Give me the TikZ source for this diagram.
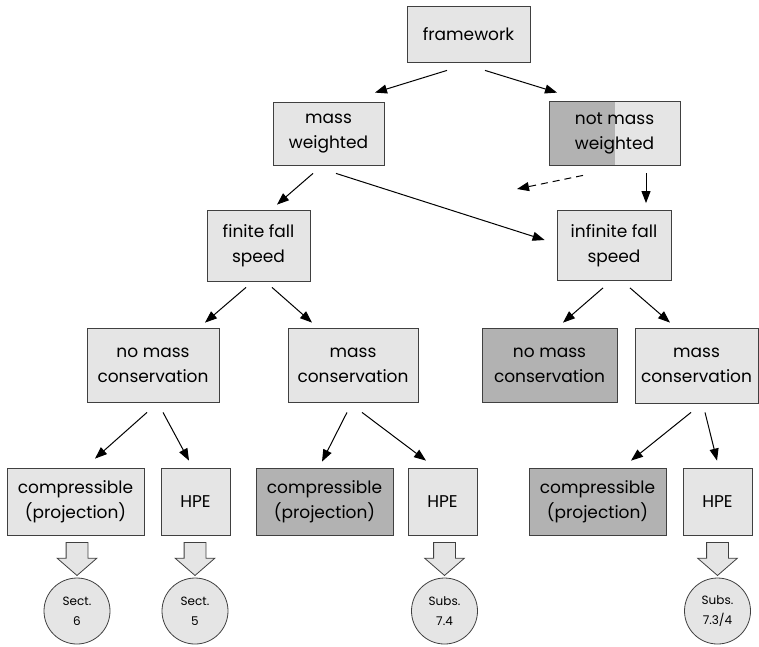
\documentclass[tikz,border=0pt]{standalone}
\usepackage{fontspec}
\setmainfont{Poppins}
\usepackage{tikz}
\usetikzlibrary{arrows.meta,positioning,calc,shapes.arrows}

\definecolor{boxlight}{gray}{0.90}
\definecolor{boxdark}{gray}{0.70}
\definecolor{boxline}{gray}{0.25}

\begin{document}
\begin{tikzpicture}[
  x=1pt,y=-1pt,
  block/.style={rectangle,draw=boxline,fill=boxlight,line width=0.8pt,align=center,
                inner sep=0pt,font=\fontsize{17}{25}\selectfont},
  darkblock/.style={block,fill=boxdark},
  halfblock/.style={block,path picture={\fill[boxdark] (path picture bounding box.south west)
                rectangle (path picture bounding box.north);}},
  sect/.style={circle,draw=boxline,fill=boxlight,line width=0.8pt,minimum size=66pt,
                inner sep=0pt,align=center,font=\fontsize{12}{20}\selectfont},
  fat/.style={single arrow,draw=boxline,fill=boxlight,line width=0.8pt,rotate=-90,
                minimum height=33pt,inner xsep=0pt,inner ysep=10.5pt,anchor=tip,
                single arrow head extend=9pt,single arrow tip angle=98},
  arr/.style={-{Triangle[length=12pt,width=9pt]},line width=1pt}
]
  \useasboundingbox (0,0) rectangle (759,646);
  % levels 1 and 2
  \node[block,minimum width=123pt,minimum height=56pt] (fw) at (468.5,34) {framework};
  \node[block,minimum width=111pt,minimum height=63pt] (mw) at (328.5,133.5) {mass\\weighted};
  \node[halfblock,minimum width=131pt,minimum height=64pt] (nmw) at (614.5,133) {not mass\\weighted};
  % fall speed
  \node[block,minimum width=103pt,minimum height=71pt] (ffs) at (258.5,245.5) {finite fall\\speed};
  \node[block,minimum width=114pt,minimum height=70pt] (ifs) at (614,245.5) {infinite fall\\speed};
  % mass conservation
  \node[block,minimum width=132pt,minimum height=74pt] (nmc1) at (153,365) {no mass\\conservation};
  \node[block,minimum width=130pt,minimum height=74pt] (mc1) at (353,365) {mass\\conservation};
  \node[darkblock,minimum width=135pt,minimum height=74pt] (nmc2) at (549.5,365) {no mass\\conservation};
  \node[block,minimum width=123pt,minimum height=75pt] (mc2) at (696.5,365.5) {mass\\conservation};
  % equations
  \node[block,minimum width=137pt,minimum height=67pt] (c1) at (75.5,501.5) {compressible\\(projection)};
  \node[block,minimum width=69pt,minimum height=67pt] (h1) at (195.5,501.5) {HPE};
  \node[darkblock,minimum width=137pt,minimum height=67pt] (c2) at (324.5,501.5) {compressible\\(projection)};
  \node[block,minimum width=69pt,minimum height=67pt] (h2) at (442.5,501.5) {HPE};
  \node[darkblock,minimum width=137pt,minimum height=67pt] (c3) at (597.5,501.5) {compressible\\(projection)};
  \node[block,minimum width=69pt,minimum height=67pt] (h3) at (717.5,501.5) {HPE};
  % sections
  \node[fat] (f1) at (77,576) {};
  \node[fat] (f2) at (195,576) {};
  \node[fat] (f3) at (444.5,576) {};
  \node[fat] (f4) at (717.5,576) {};
  \node[sect] (s1) at (77,611) {Sect.\\6};
  \node[sect] (s2) at (195,611) {Sect.\\5};
  \node[sect] (s3) at (444.5,611) {Subs.\\7.4};
  \node[sect] (s4) at (717.5,611) {Subs.\\7.3/4};
  \coordinate (nmwend) at (517,189);

  \draw[arr] ([xshift=-21.5pt,yshift=-8pt]fw.south) -- ([xshift=46.5pt,yshift=9pt]mw.north);
  \draw[arr] ([xshift=16.5pt,yshift=-8pt]fw.south) -- ([xshift=-57.5pt,yshift=8pt]nmw.north);
  \draw[arr] ([xshift=-15.5pt,yshift=-8pt]mw.south) -- ([xshift=18.5pt,yshift=5pt]ffs.north);
  \draw[arr] ([xshift=7.5pt,yshift=-8pt]mw.south) -- ([xshift=-12pt,yshift=5.5pt]ifs.west);
  \draw[arr,dash pattern=on 7pt off 5pt] ([xshift=-31.5pt,yshift=-10pt]nmw.south) -- (nmwend);
  \draw[arr] ([xshift=31.5pt,yshift=-8pt]nmw.south) -- ([xshift=32pt,yshift=7pt]ifs.north);
  \draw[arr] ([xshift=-12.5pt,yshift=-6pt]ffs.south) -- ([xshift=52pt,yshift=5pt]nmc1.north);
  \draw[arr] ([xshift=13.5pt,yshift=-6pt]ffs.south) -- ([xshift=-41pt,yshift=5pt]mc1.north);
  \draw[arr] ([xshift=-11pt,yshift=-7pt]ifs.south) -- ([xshift=13.5pt,yshift=5pt]nmc2.north);
  \draw[arr] ([xshift=16pt,yshift=-7pt]ifs.south) -- ([xshift=-26.5pt,yshift=5pt]mc2.north);
  \draw[arr] ([xshift=-6pt,yshift=-10pt]nmc1.south) -- ([xshift=19.5pt,yshift=9pt]c1.north);
  \draw[arr] ([xshift=10pt,yshift=-10pt]nmc1.south) -- ([xshift=-6.5pt,yshift=7pt]h1.north);
  \draw[arr] ([xshift=-6pt,yshift=-10pt]mc1.south) -- ([xshift=-2.5pt,yshift=6pt]c2.north);
  \draw[arr] ([xshift=9pt,yshift=-10pt]mc1.south) -- ([xshift=-16.5pt,yshift=7pt]h2.north);
  \draw[arr] ([xshift=-5.5pt,yshift=-9pt]mc2.south) -- ([xshift=33.5pt,yshift=7pt]c3.north);
  \draw[arr] ([xshift=8.5pt,yshift=-9pt]mc2.south) -- ([xshift=-0.5pt,yshift=7pt]h3.north);
\end{tikzpicture}
\end{document}
